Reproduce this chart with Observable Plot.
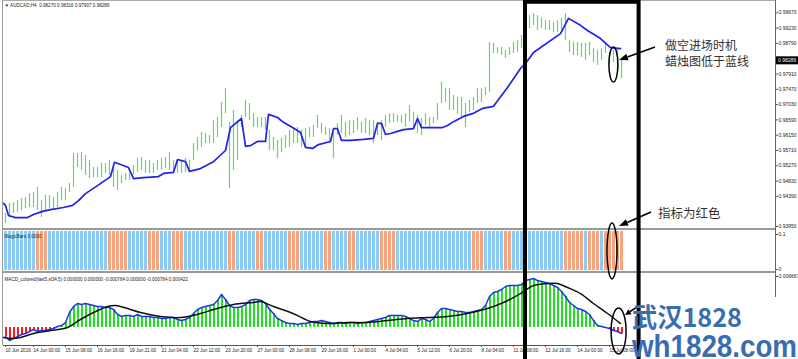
<!DOCTYPE html>
<html><head><meta charset="utf-8">
<script src="https://cdn.jsdelivr.net/npm/d3@7"></script>
<script src="https://cdn.jsdelivr.net/npm/@observablehq/plot@0.6"></script>
<style>
html,body{margin:0;padding:0;background:#fff;}
#chart{position:relative;width:798px;height:359px;overflow:hidden;background:#fff;}
#chart svg{position:absolute;left:0;}
</style></head><body><div id="chart"></div>
<script>
// ---------- data ----------
const titleText = "\u25BC AUDCAD,H4  0.98270 0.98316 0.97907 0.98289";
const lastClose = 0.98289;
const priceTicks = [0.99670,0.99230,0.98790,0.97910,0.97470,0.97030,0.96590,0.96150,0.95710,0.95270,0.94830,0.94390];
const priceBottomLabel = "0.93950";

const barHigh = [
0.9390,0.9419,0.9421,0.9427,0.9433,0.9436,0.9447,0.9450,0.9465,0.9427,
0.9442,0.9442,0.9436,0.9450,0.9465,0.9462,0.9476,0.9562,0.9562,0.9565,
0.9557,0.9542,0.9522,0.9522,0.9534,0.9534,0.9542,0.9522,0.9514,0.9499,
0.9505,0.9505,0.9528,0.9548,0.9551,0.9542,0.9542,0.9534,0.9542,0.9548,
0.9551,0.9565,0.9542,0.9542,0.9542,0.9548,0.9542,0.9591,0.9608,0.9623,
0.9620,0.9614,0.9657,0.9666,0.9709,0.9749,0.9652,0.9686,0.9657,0.9672,
0.9715,0.9706,0.9677,0.9666,0.9666,0.9666,0.9629,0.9608,0.9600,0.9606,
0.9614,0.9629,0.9637,0.9637,0.9629,0.9634,0.9637,0.9643,0.9672,0.9649,
0.9637,0.9634,0.9620,0.9649,0.9672,0.9652,0.9657,0.9657,0.9666,0.9652,
0.9663,0.9657,0.9657,0.9652,0.9657,0.9672,0.9677,0.9677,0.9672,0.9672,
0.9677,0.9700,0.9680,0.9672,0.9663,0.9677,0.9666,0.9666,0.9706,0.9767,
0.9749,0.9749,0.9729,0.9723,0.9723,0.9706,0.9715,0.9723,0.9749,0.9749,
0.9752,0.9882,0.9879,0.9867,0.9867,0.9859,0.9867,0.9882,0.9887,0.9902,
0.9945,0.9959,0.9965,0.9959,0.9951,0.9945,0.9945,0.9939,0.9945,0.9951,
0.9965,0.9887,0.9882,0.9882,0.9879,0.9879,0.9882,0.9864,0.9859,0.9864,
0.9879,0.9853,0.9859,0.9864,0.9830];
const barLow = [
0.9361,0.9378,0.9390,0.9393,0.9398,0.9404,0.9407,0.9407,0.9398,0.9378,
0.9398,0.9404,0.9404,0.9407,0.9427,0.9427,0.9450,0.9465,0.9522,0.9514,
0.9499,0.9490,0.9493,0.9493,0.9493,0.9505,0.9499,0.9465,0.9456,0.9476,
0.9485,0.9485,0.9499,0.9508,0.9514,0.9505,0.9505,0.9505,0.9514,0.9514,
0.9519,0.9514,0.9508,0.9505,0.9505,0.9508,0.9508,0.9542,0.9571,0.9580,
0.9591,0.9591,0.9591,0.9608,0.9637,0.9677,0.9462,0.9514,0.9542,0.9637,
0.9666,0.9657,0.9637,0.9637,0.9637,0.9629,0.9571,0.9571,0.9548,0.9565,
0.9577,0.9580,0.9591,0.9591,0.9580,0.9580,0.9608,0.9608,0.9634,0.9620,
0.9614,0.9591,0.9548,0.9614,0.9620,0.9608,0.9614,0.9620,0.9629,0.9620,
0.9620,0.9614,0.9591,0.9614,0.9600,0.9637,0.9649,0.9652,0.9652,0.9649,
0.9637,0.9652,0.9634,0.9620,0.9614,0.9643,0.9637,0.9649,0.9657,0.9706,
0.9709,0.9686,0.9686,0.9677,0.9666,0.9637,0.9680,0.9686,0.9706,0.9709,
0.9729,0.9738,0.9850,0.9850,0.9844,0.9836,0.9844,0.9850,0.9853,0.9864,
0.9893,0.9922,0.9931,0.9916,0.9922,0.9916,0.9916,0.9910,0.9910,0.9916,
0.9887,0.9853,0.9844,0.9844,0.9839,0.9830,0.9844,0.9824,0.9816,0.9830,
0.9850,0.9821,0.9824,0.9792,0.9778];

const maBar = [-0.5,0,0.75,2.5,5.5,7,9.25,11.25,14.5,16.75,18.25,20,23,26.25,27.25,30.75,32,34.5,38.25,39.5,42,43,45,46,48.75,52,55,56.25,59,60,61.25,63,65,65.75,68,69.5,71.75,73.75,75,76.75,78.25,81.25,82,83,84,86.25,89.5,92,93,94,95,96.25,98,99.5,102,103,104,106.75,109.25,110.5,112,114.5,116.75,119.25,122,125.5,128.75,130,132,138.75,140.75,143.75,145.5,148.75,151.25,153.75];
const maPrice = [0.9419,0.9413,0.9384,0.9378,0.9378,0.9387,0.9396,0.9401,0.9407,0.9413,0.9427,0.9447,0.9470,0.9496,0.9537,0.9522,0.9490,0.9493,0.9496,0.9505,0.9508,0.9545,0.9539,0.9511,0.9519,0.9539,0.9571,0.9637,0.9663,0.9583,0.9585,0.9597,0.9597,0.9675,0.9666,0.9652,0.9637,0.9623,0.9580,0.9577,0.9588,0.9597,0.9634,0.9634,0.9600,0.9600,0.9603,0.9606,0.9649,0.9649,0.9617,0.9620,0.9626,0.9631,0.9634,0.9663,0.9637,0.9637,0.9637,0.9643,0.9654,0.9669,0.9677,0.9692,0.9698,0.9752,0.9807,0.9821,0.9853,0.9907,0.9951,0.9931,0.9916,0.9893,0.9867,0.9864];

// MagicBars colour per bar: b = blue, r = red/orange
const magicColors =
 "bbbbbbbbrr"+"rbbbbbbbbb"+"bbbbbbrrrr"+"rbbbbbrrrb"+"bbrrrbbbbb"+
 "bbbbbbrrbb"+"bbbrrbbbbb"+"brrrbbbbbb"+"rrbbbbrrbb"+"bbbbrrrrbb"+
 "bbbbbbbbbb"+"bbbbbbbrrr"+"bbbbbrrbbb"+"bbbbbbbbbb"+"rrrrrbrrrb"+"rrrrr";
const magicLevel = 0.1;

const macdMain = [
-0.00118,-0.00170,-0.00144,-0.00118,-0.00091,-0.00078,-0.00052,-0.00026,-0.00052,-0.00039,
-0.00039,-0.00026,-0.00013,0.00013,0.00026,0.00065,0.00196,0.00274,0.00314,0.00301,
0.00314,0.00301,0.00288,0.00274,0.00274,0.00261,0.00261,0.00235,0.00170,0.00144,
0.00157,0.00157,0.00144,0.00170,0.00144,0.00144,0.00144,0.00131,0.00131,0.00118,
0.00118,0.00131,0.00131,0.00105,0.00091,0.00105,0.00131,0.00183,0.00235,0.00261,
0.00274,0.00288,0.00301,0.00353,0.00431,0.00366,0.00288,0.00261,0.00261,0.00274,
0.00301,0.00353,0.00366,0.00366,0.00353,0.00314,0.00235,0.00183,0.00118,0.00091,
0.00065,0.00052,0.00052,0.00039,0.00052,0.00052,0.00065,0.00078,0.00078,0.00091,
0.00078,0.00065,0.00052,0.00065,0.00065,0.00052,0.00065,0.00065,0.00052,0.00065,
0.00065,0.00078,0.00091,0.00105,0.00118,0.00131,0.00157,0.00157,0.00157,0.00157,
0.00144,0.00118,0.00091,0.00078,0.00118,0.00105,0.00078,0.00118,0.00196,0.00248,
0.00248,0.00235,0.00222,0.00209,0.00209,0.00196,0.00196,0.00209,0.00222,0.00235,
0.00288,0.00405,0.00457,0.00471,0.00497,0.00536,0.00549,0.00549,0.00549,0.00562,
0.00614,0.00627,0.00640,0.00614,0.00601,0.00588,0.00575,0.00549,0.00523,0.00471,
0.00405,0.00327,0.00288,0.00248,0.00235,0.00209,0.00170,0.00091,0.00026,0.00013,
0.00000,-0.00013,-0.00039,-0.00052,-0.00078];
const sigBar = [-0.5,1.25,3.75,7,11.25,15.5,18.75,22,25.5,27.5,30.5,33.75,38.75,43.75,48.75,52,57,62,63.75,67,71.25,74.5,76.25,80.5,85.5,90.5,95.5,100.5,105.5,110.5,115.5,120.5,124.5,128.75,132,135.5,138,140.5,143.75,147,150.5,153.75];
const sigVal = [-0.00131,-0.00144,-0.00131,-0.00078,-0.00039,0,0.00105,0.00196,0.00274,0.00288,0.00248,0.00196,0.00144,0.00131,0.00183,0.00235,0.00301,0.00327,0.00340,0.00274,0.00196,0.00118,0.00078,0.00052,0.00065,0.00065,0.00091,0.00118,0.00131,0.00144,0.00183,0.00248,0.00327,0.00444,0.00549,0.00575,0.00575,0.00523,0.00444,0.00314,0.00183,0.00052];
const macdTopLabel = 0.006667;
const macdTitle = "MACD_colored(fast5,sl34,5) 0.000000 0.000000 -0.000784 0.000000 -0.000784 0.000422";
const magicTitle = "MagicBars 0.0000";

const timeTickBars = [0,7,15,23,31,39,47,55,63,71,79,87,95,103,111,119,127,135,143,151];
const timeTickLabels = ["10 Jun 2016","14 Jun 00:00","15 Jun 08:00","16 Jun 16:00","19 Jun 21:00","21 Jun 04:00","22 Jun 12:00","23 Jun 20:00","27 Jun 00:00","28 Jun 08:00","29 Jun 16:00","1 Jul 00:00","4 Jul 04:00","5 Jul 12:00","6 Jul 20:00","8 Jul 04:00","11 Jul 08:00","12 Jul 16:00","14 Jul 00:00","15 Jul 08:00"];

const note1 = ["做空进场时机","蜡烛图低于蓝线"];
const note2 = "指标为红色";
const wm1 = "武汉1828", wm2 = "wh1828.com";

// ---------- layout ----------
const W = 798;
const xDomain = [-0.5, 192.5];
const priceDomain = [0.93438, 1.00024];
const macdDomain = [-0.00235, 0.00706];
const panelTop = {price: 0, magic: 229, macd: 273};
const font = "'Liberation Sans', Arial, sans-serif";

const bars = barHigh.map((h, i) => ({i, high: h, low: barLow[i]}));
const ma = maBar.map((b, k) => ({i: b, p: maPrice[k]}));
const magic = magicColors.split("").map((c, i) => ({i, c}));
const macd = macdMain.map((v, i) => ({i, v}));
const sig = sigBar.map((b, k) => ({i: b, v: sigVal[k]}));

const common = {
  width: W, marginLeft: 3, marginRight: 23,
  x: {domain: xDomain, axis: null},
  style: {fontFamily: font, fontSize: "5px", color: "#222", background: "transparent", overflow: "visible"}
};

const pricePlot = Plot.plot({
  ...common, height: 229, marginTop: 0, marginBottom: 0,
  y: {domain: priceDomain, axis: null},
  marks: [
    Plot.ruleX(bars, {x: "i", y1: "low", y2: "high", stroke: "#3fd93f", strokeWidth: 1.2, strokeOpacity: 0.85}),
    Plot.line(ma, {x: "i", y: "p", stroke: "#2222ee", strokeWidth: 1.7}),
    Plot.axisY(priceTicks, {anchor: "right", label: null, tickSize: 2, tickPadding: 1, fontSize: 5, stroke: "#555", tickFormat: d3.format(".5f")}),
    Plot.axisY([priceDomain[0]], {anchor: "right", label: null, tickSize: 2, tickPadding: 1, fontSize: 5, stroke: "#555", dy: -3, tickFormat: () => priceBottomLabel}),
    Plot.text([titleText], {frameAnchor: "top-left", dx: 1, dy: 3, text: d => d, fontSize: 4.6, fill: "#222"})
  ]
});

const magicPlot = Plot.plot({
  ...common, height: 44, marginTop: 2, marginBottom: 3,
  y: {domain: [0, magicLevel], axis: null},
  marks: [
    Plot.ruleX(magic.filter(d => d.c === "b"), {x: "i", y1: d => 0, y2: d => magicLevel, stroke: "#8ccbf6", strokeWidth: 3}),
    Plot.ruleX(magic.filter(d => d.c === "r"), {x: "i", y1: d => 0, y2: d => magicLevel, stroke: "#f6a47f", strokeWidth: 3}),
    Plot.axisY([magicLevel], {anchor: "right", label: null, tickSize: 2, tickPadding: 1, fontSize: 5, stroke: "#555", dy: 3, tickFormat: () => "0.1"}),
    Plot.axisY([0], {anchor: "right", label: null, tickSize: 2, tickPadding: 1, fontSize: 5, stroke: "#555", dy: -1, tickFormat: () => "0"}),
    Plot.text([magicTitle], {frameAnchor: "top-left", dx: 1, dy: 3, text: d => d, fontSize: 4.6, fill: "#222"})
  ]
});

const macdPlot = Plot.plot({
  ...common, height: 86, marginTop: 0, marginBottom: 14,
  y: {domain: macdDomain, axis: null},
  marks: [
    Plot.ruleX(macd.filter(d => d.v >= 0), {x: "i", y1: d => 0, y2: "v", stroke: "#22e022", strokeWidth: 2, dx: 0.5}),
    Plot.ruleX(macd.filter(d => d.v < 0), {x: "i", y1: d => 0, y2: "v", stroke: "#ff1a1a", strokeWidth: 2, dx: 0.5}),
    Plot.line(macd, {x: "i", y: "v", stroke: "#2233ee", strokeWidth: 1.5}),
    Plot.line(sig, {x: "i", y: "v", stroke: "#111", strokeWidth: 1.5, curve: "catmull-rom"}),
    Plot.ruleY([macdDomain[0]], {stroke: "#555"}),
    Plot.axisY([macdTopLabel], {anchor: "right", label: null, tickSize: 2, tickPadding: 1, fontSize: 5, stroke: "#555", tickFormat: d3.format(".6f")}),
    Plot.axisX(timeTickBars, {anchor: "bottom", label: null, tickSize: 2, tickPadding: 1, fontSize: 4.6, stroke: "#555", textAnchor: "start",
      tickFormat: d => timeTickLabels[timeTickBars.indexOf(d)]}),
    Plot.text([macdTitle], {frameAnchor: "top-left", dx: 1, dy: 4, text: d => d, fontSize: 4.6, fill: "#222"})
  ]
});

const root = document.getElementById("chart");
[[pricePlot, panelTop.price], [magicPlot, panelTop.magic], [macdPlot, panelTop.macd]].forEach(([p, t]) => {
  p.style.top = t + "px";
  root.appendChild(p);
});

// ---------- overlay: panel chrome & annotations ----------
const sx = pricePlot.scale("x").apply;
const syP = v => pricePlot.scale("y").apply(v) + panelTop.price;
const syM = v => magicPlot.scale("y").apply(v) + panelTop.magic;
const syD = v => macdPlot.scale("y").apply(v) + panelTop.macd;
const xL = sx(xDomain[0]), xR = sx(xDomain[1]);

const ov = d3.select(root).append("svg").attr("width", W).attr("height", 359).style("top", "0px");

// panel frames
ov.append("line").attr("x1", 2.5).attr("x2", 2.5).attr("y1", 0).attr("y2", syD(macdDomain[0])).attr("stroke", "#999");
ov.append("line").attr("x1", 2).attr("x2", xR).attr("y1", 0.5).attr("y2", 0.5).attr("stroke", "#aaa");
ov.append("line").attr("x1", xR + 0.5).attr("x2", xR + 0.5).attr("y1", 0).attr("y2", syD(macdDomain[0])).attr("stroke", "#666");
[panelTop.magic, panelTop.macd - 1].forEach(y =>
  ov.append("line").attr("x1", xL).attr("x2", xR).attr("y1", y).attr("y2", y).attr("stroke", "#9a9a9a").attr("stroke-width", 2));

// current price label
const yc = syP(lastClose);
ov.append("rect").attr("x", xR + 1).attr("y", yc - 4).attr("width", 22).attr("height", 8).attr("fill", "#000");
ov.append("text").attr("x", xR + 3).attr("y", yc).attr("dy", "0.35em").attr("fill", "#fff")
  .attr("font-family", font).attr("font-size", 5).text(lastClose.toFixed(5));

// black highlight box
const bx1 = sx(130), bx2 = sx(158.4);
ov.append("path").attr("d", `M${bx1},359 L${bx1},1.8 L${bx2},1.8 L${bx2},359`)
  .attr("fill", "none").attr("stroke", "#000").attr("stroke-width", 4);

// ellipses
function ellipse(cx, cy, rx, ry) {
  ov.append("ellipse").attr("cx", cx).attr("cy", cy).attr("rx", rx).attr("ry", ry)
    .attr("fill", "none").attr("stroke", "#000").attr("stroke-width", 1.5);
}
ellipse(sx(152.1), syP(0.9817), 4.5, 17.5);
ellipse(sx(151.75), syM(0.049), 5, 28);
ellipse(sx(153.4), syD(-0.00052), 7.5, 23);

// arrows
function arrow(x1, y1, x2, y2, len, half) {
  const a = Math.atan2(y2 - y1, x2 - x1);
  const bxp = x2 - len * Math.cos(a), byp = y2 - len * Math.sin(a);
  ov.append("line").attr("x1", x1).attr("y1", y1).attr("x2", bxp).attr("y2", byp).attr("stroke", "#000").attr("stroke-width", 1.6);
  const px = -Math.sin(a) * half, py = Math.cos(a) * half;
  ov.append("polygon").attr("points", `${x2},${y2} ${bxp + px},${byp + py} ${bxp - px},${byp - py}`).attr("fill", "#000");
}
arrow(655, 47, 619, 60, 9, 3.5);
arrow(651, 212, 619, 226, 9, 3.5);

// notes
const cjk = "'Noto Sans CJK SC', 'Noto Sans', sans-serif";
note1.forEach((t, k) => ov.append("text").attr("x", 665).attr("y", 50 + k * 16).attr("font-family", cjk)
  .attr("font-size", 12).attr("fill", "#333").text(t));
ov.append("text").attr("x", 658).attr("y", 218).attr("font-family", cjk).attr("font-size", 12.5).attr("fill", "#333").text(note2);

// watermark
ov.append("rect").attr("x", 642).attr("y", 297).attr("width", W - 642).attr("height", 62).attr("fill", "#fff");
arrow(637, 307, 625, 315, 6, 3);
ov.append("text").attr("x", 632).attr("y", 327).attr("font-family", cjk).attr("font-weight", 700)
  .attr("font-size", 26).attr("fill", "#3a6db0").attr("textLength", 110).attr("lengthAdjust", "spacingAndGlyphs").text(wm1);
ov.append("text").attr("x", 632).attr("y", 357).attr("font-family", font).attr("font-weight", 700)
  .attr("font-size", 32).attr("fill", "#3a6db0").attr("textLength", 165).attr("lengthAdjust", "spacingAndGlyphs").text(wm2);
</script></body></html>
